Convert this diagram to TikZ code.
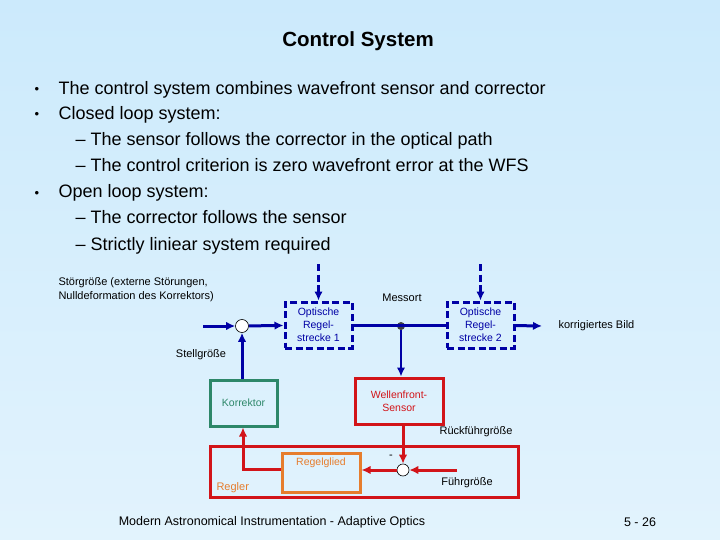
\documentclass[tikz,border=0pt]{standalone}
\usepackage{fontspec}
\setmainfont{Liberation Sans}
\usepackage{xcolor}
\usetikzlibrary{arrows.meta,positioning,calc}
\definecolor{bgtop}{RGB}{204,234,252}
\definecolor{bgbot}{RGB}{226,243,253}
\definecolor{sigblue}{RGB}{0,0,165}
\definecolor{ctrlred}{RGB}{210,20,25}
\definecolor{korrgreen}{RGB}{45,135,105}
\definecolor{glorange}{RGB}{230,125,45}
\tikzset{
  sig/.style={line width=3pt,-{Latex[length=9pt,width=8.5pt]}},
  dsig/.style={sig,dash pattern=on 7pt off 3.5pt},
  optbox/.style={draw=sigblue,line width=3pt,dash pattern=on 7pt off 3.5pt,
    minimum width=67pt,minimum height=46pt,align=center,
    text=sigblue,font=\fontsize{10.5}{13}\selectfont},
  redbox/.style={draw=ctrlred,line width=3pt,minimum width=88pt,minimum height=46pt},
  sumpt/.style={circle,draw=black,line width=0.6pt,fill=white,inner sep=0pt,minimum size=13pt},
  lab/.style={font=\fontsize{11}{14}\selectfont},
  bul/.style={anchor=base west,font=\fontsize{18}{20}\selectfont},
}
\begin{document}
\begin{tikzpicture}[x=1pt,y=-1pt]
\useasboundingbox (0,0) rectangle (720,540);
\fill[top color=bgtop,bottom color=bgbot] (0,0) rectangle (720,540);
% title and bullets
\node[font=\bfseries\fontsize{20.5}{24}\selectfont] (title) at (358,41) {Control System};
\foreach \y/\txt in {95/The control system combines wavefront sensor and corrector,
                     120/Closed loop system:,
                     198/Open loop system:}
  {\node[bul,font=\fontsize{13}{15}\selectfont] at (31,\y-1) {•};
   \node[bul] at (55,\y) {\txt};}
\foreach \y/\txt in {146/The sensor follows the corrector in the optical path,
                     172/The control criterion is zero wavefront error at the WFS,
                     224/The corrector follows the sensor,
                     250/Strictly liniear system required}
  {\node[bul] at (72,\y) {–};
   \node[bul] at (87,\y) {\txt};}
% blocks
\node[optbox] (strecke1) at (318.5,325) {Optische\\Regel-\\strecke 1};
\node[optbox] (strecke2) at (480.5,325) {Optische\\Regel-\\strecke 2};
\node[sumpt] (sum1) at (242,326) {};
\node[circle,fill=black!75,inner sep=0pt,minimum size=8pt] (messort) at (401,326) {};
\node[redbox,align=center,text=ctrlred,font=\fontsize{10.5}{13}\selectfont] (wfs) at (399,401) {Wellenfront-\\Sensor};
\node[draw=korrgreen,line width=3pt,minimum width=67pt,minimum height=46pt,
      text=korrgreen,font=\fontsize{10.5}{13}\selectfont] (korrektor) at (243.5,403) {Korrektor};
\node[redbox,minimum width=308pt,minimum height=51pt] (regler) at (364,471.5) {};
\node[draw=glorange,line width=3pt,minimum width=78pt,minimum height=39pt] (regelglied) at (321,472.5) {};
\node[anchor=north,text=glorange,inner sep=6pt,font=\fontsize{10.5}{13}\selectfont] at (regelglied.north) {Regelglied};
\node[sumpt,minimum size=12pt] (sum2) at (403,470) {};
% free ends
\coordinate (in1) at (203,326);
\coordinate (out2) at (542,326);
\coordinate (dist1) at (318.5,264);
\coordinate (dist2) at (480.5,264);
\coordinate (fuehr) at (457,470);
\coordinate (knick) at (243,469);
% labels
\node[lab,anchor=north west,align=left] (stoerlab) at (55,274) {Störgröße (externe Störungen,\\Nulldeformation des Korrektors)};
\node[lab] (messlab) at (402,298) {Messort};
\node[lab] (stelllab) at (201,355) {Stellgröße};
\node[lab,anchor=west] (bildlab) at (555,326) {korrigiertes Bild};
\node[lab] (rueckab) at (476,432) {Rückführgröße};
\node[lab] (minuslab) at (391,457) {-};
\node[lab] (fuehrlab) at (467,483) {Führgröße};
\node[lab,anchor=west,text=glorange] (reglerlab) at (213,488) {Regler};
% signal path
\draw[sigblue,sig] (in1) -- (sum1);
\draw[sigblue,sig] (sum1) -- (strecke1);
\draw[sigblue,line width=3pt] (strecke1) -- (strecke2);
\draw[sigblue,sig] (strecke2) -- (out2);
\draw[sigblue,dsig] (dist1) -- (strecke1);
\draw[sigblue,dsig] (dist2) -- (strecke2);
\draw[sigblue,sig] (korrektor.north -| sum1) -- (sum1);
\draw[sigblue,sig,line width=2.2pt] (messort) -- (messort |- wfs.north);
% controller
\draw[ctrlred,sig] (wfs.south -| sum2) -- (sum2);
\draw[ctrlred,sig] (fuehr) -- (sum2);
\draw[ctrlred,sig] (sum2) -- (regelglied.east |- sum2);
\draw[ctrlred,sig] (regelglied.west |- knick) -- (knick) -- (korrektor.south -| knick);
\node[font=\fontsize{12.5}{15}\selectfont] (footer) at (272,522) {Modern Astronomical Instrumentation - Adaptive Optics};
\node[font=\fontsize{12.5}{15}\selectfont] (pageno) at (640,522) {5 - 26};
\end{tikzpicture}
\end{document}
